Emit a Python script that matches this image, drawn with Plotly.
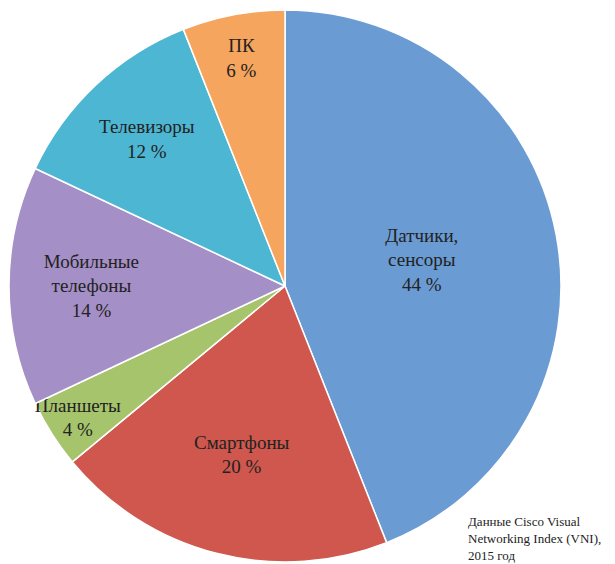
import plotly.graph_objects as go

labels = ["Датчики,<br>сенсоры", "Смартфоны", "Планшеты", "Мобильные<br>телефоны", "Телевизоры", "ПК"]
values = [44, 20, 4, 14, 12, 6]
colors = ["#6a9bd3", "#cf574d", "#a6c46b", "#a48fc6", "#4db6d2", "#f6a55e"]

texts = [f"{l}<br>{v} %" for l, v in zip(labels, values)]

fig = go.Figure(go.Pie(
    values=values, labels=labels, text=texts, textinfo="text",
    textposition="inside", insidetextorientation="horizontal",
    sort=False, direction="clockwise", rotation=0,
    marker=dict(colors=colors, line=dict(color="white", width=1.5)),
    textfont=dict(family="Liberation Serif", size=19, color="#222"),
    domain=dict(x=[0, 554/615], y=[10/564, 562/564]),
    showlegend=False, hoverinfo="skip",
))
fig.add_annotation(
    text="Данные Cisco Visual<br>Networking Index (VNI),<br>2015 год",
    x=458/615, y=0.012, xref="paper", yref="paper", xanchor="left", yanchor="bottom",
    align="left", showarrow=False,
    font=dict(family="Liberation Serif", size=13, color="#222"),
)
fig.update_layout(width=615, height=564, margin=dict(l=0, r=0, t=0, b=0),
                  uniformtext=dict(minsize=19, mode="show"),
                  paper_bgcolor="white", plot_bgcolor="white")
fig.write_html("out.html")
